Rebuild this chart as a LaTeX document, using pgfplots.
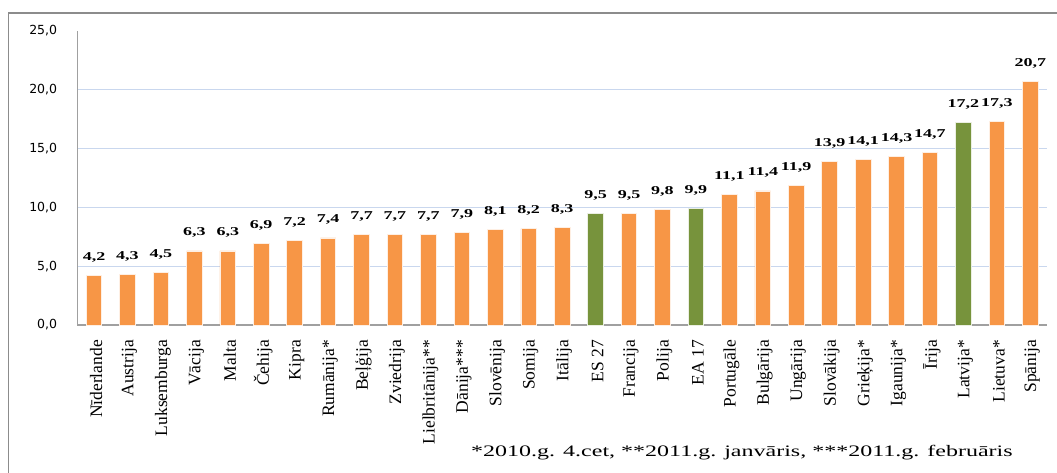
\documentclass[border=0pt]{standalone}
\usepackage{fontspec}
\setmainfont{Liberation Serif}
\newfontfamily\ticksans{DejaVu Sans}
\usepackage{graphicx}
\usepackage{pgfplots}
\pgfplotsset{compat=1.18}
\definecolor{barorange}{HTML}{F79646}
\definecolor{bargreen}{HTML}{77933C}
\definecolor{gridblue}{HTML}{C9D7EE}
\definecolor{axgray}{HTML}{A0A0A0}
\definecolor{framegray}{HTML}{8C8C8C}
\begin{document}
\begin{tikzpicture}
\path[use as bounding box] (0pt,0pt) rectangle (1057pt,472pt);
\draw[line width=1.6pt, color=framegray] (8.5pt,-5pt) -- (8.5pt,459pt) -- (1062pt,459pt);
\begin{axis}[
  at={(77.3pt,147pt)}, anchor=south west,
  scale only axis, width=969.7pt, height=294pt,
  xmin=-0.5, xmax=28.5, ymin=0, ymax=25,
  axis x line*=bottom, axis y line*=left,
  axis line style={axgray, line width=1.5pt},
  ybar, bar width=15.6pt, bar shift=0pt,
  major tick length=0pt,
  xtick={0,...,28},
  xticklabels={N\={\i}derlande, Austrija, Luksemburga, Vācija, Malta, Čehija, Kipra, Rumānija*, Beļģija, Zviedrija, Lielbritānija**, Dānija***, Slovēnija, Somija, Itālija, ES 27, Francija, Polija, EA 17, Portugāle, Bulgārija, Ungārija, Slovākija, Grieķija*, Igaunija*, Īrija, Latvija*, Lietuva*, Spānija},
  xticklabel style={font=\fontsize{17.5}{17.5}\selectfont, xshift=2pt, yshift=-15pt, rotate=90, anchor=east, inner sep=0pt},
  ytick={5,10,15,20},
  extra y ticks={0,25},
  extra y tick style={grid=none},
  ymajorgrids,
  grid style={gridblue, line width=1pt},
  /pgf/number format/.cd, fixed, fixed zerofill, precision=1, use comma, assume math mode=true, /pgfplots/.cd,
  yticklabel style={font=\ticksans\fontsize{12.5}{12.5}\selectfont, anchor=east, inner sep=0pt, xshift=-20pt},
  nodes near coords={\scalebox{1.5}[1]{\pgfmathprintnumber{\pgfplotspointmeta}}},
  nodes near coords style={font=\bfseries\fontsize{12}{12}\selectfont, anchor=base, yshift=15pt, inner sep=0pt, text=black},
]
\addplot[fill=barorange, draw=white!85!barorange, line width=0.8pt] coordinates {
 (0,4.2) (1,4.3) (2,4.5) (3,6.3) (4,6.3) (5,6.9) (6,7.2) (7,7.4) (8,7.7) (9,7.7)
 (10,7.7) (11,7.9) (12,8.1) (13,8.2) (14,8.3) (16,9.5) (17,9.8) (19,11.1)
 (20,11.4) (21,11.9) (22,13.9) (23,14.1) (24,14.3) (25,14.7) (27,17.3) (28,20.7)};
\addplot[fill=bargreen, draw=white!85!bargreen, line width=0.8pt] coordinates {
 (15,9.5) (18,9.9) (26,17.2)};
\end{axis}
\node[anchor=base west, inner sep=0pt, font=\fontsize{16}{16}\selectfont] at (471pt,16pt)
  {\scalebox{1.5}[1]{*2010.g. 4.cet, **2011.g. janvāris, ***2011.g. februāris}};
\end{tikzpicture}
\end{document}
